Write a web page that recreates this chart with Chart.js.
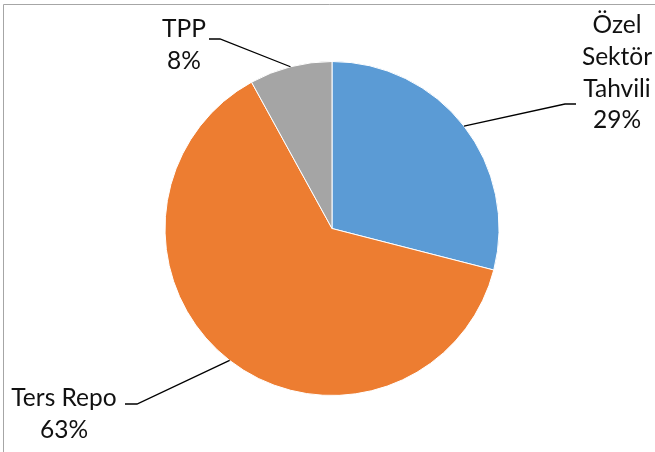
<!DOCTYPE html>
<html>
<head>
<meta charset="utf-8">
<script src="https://cdn.jsdelivr.net/npm/chart.js@4/dist/chart.umd.min.js"></script>
<style>
  html, body { margin: 0; padding: 0; background: #fff; }
  #wrap { width: 655px; height: 452px; position: relative; }
</style>
</head>
<body>
<div id="wrap"><canvas id="pieChart" width="655" height="452"></canvas></div>
<script>
// --- Data ---
const categories = ['Özel Sektör Tahvili', 'Ters Repo', 'TPP'];
const values = [29, 63, 8];
const sliceColors = ['#5B9BD5', '#ED7D31', '#A5A5A5'];

// label text lines per slice (the percentage line is added from the values)
const labelLines = [['Özel', 'Sektör', 'Tahvili'], ['Ters Repo'], ['TPP']];

// label placement: text centre x, first baseline y, elbow of the leader line
const labelPos = [
    { x: 617, y: 33, elbow: [[576, 104], [565, 104]] },
    { x: 64, y: 406, elbow: [[125, 404], [137, 404]] },
    { x: 184, y: 37, elbow: [[209, 39], [220, 39]] }
];

const LINE_H = 31.8;
const FONT = '24.5px Lato, "Noto Sans", sans-serif';

const frameAndLabels = {
    id: 'frameAndLabels',
    afterDraw(chart) {
        const ctx = chart.ctx;
        ctx.save();

        // outer frame (only top and left edges show in the reference)
        ctx.strokeStyle = '#a6a6a6';
        ctx.lineWidth = 1;
        ctx.beginPath();
        ctx.moveTo(3.5, 460);
        ctx.lineTo(3.5, 4.5);
        ctx.lineTo(660, 4.5);
        ctx.stroke();

        const total = values.reduce((a, b) => a + b, 0);
        const arcs = chart.getDatasetMeta(0).data;

        arcs.forEach((arc, i) => {
            const p = arc.getProps(['x', 'y', 'startAngle', 'endAngle', 'outerRadius'], true);
            const mid = (p.startAngle + p.endAngle) / 2;
            const ax = p.x + Math.cos(mid) * p.outerRadius;
            const ay = p.y + Math.sin(mid) * p.outerRadius;
            const pos = labelPos[i];

            // leader line
            ctx.strokeStyle = '#000';
            ctx.lineWidth = 1.3;
            ctx.beginPath();
            ctx.moveTo(pos.elbow[0][0], pos.elbow[0][1]);
            ctx.lineTo(pos.elbow[1][0], pos.elbow[1][1]);
            ctx.lineTo(ax, ay);
            ctx.stroke();

            // text
            const lines = labelLines[i].concat([Math.round(values[i] / total * 100) + '%']);
            ctx.fillStyle = '#111';
            ctx.font = FONT;
            ctx.textAlign = 'center';
            ctx.textBaseline = 'alphabetic';
            lines.forEach((t, k) => {
                ctx.fillText(t, pos.x, pos.y + k * LINE_H);
            });
        });

        ctx.restore();
    }
};

const pieChart = new Chart(document.getElementById('pieChart'), {
    type: 'pie',
    data: {
        labels: categories,
        datasets: [{
            data: values,
            backgroundColor: sliceColors,
            borderColor: '#ffffff',
            borderWidth: 1
        }]
    },
    options: {
        responsive: false,
        animation: false,
        radius: 167,
        layout: { padding: { left: 40, right: 31, top: 30, bottom: 25 } },
        plugins: {
            legend: { display: false },
            tooltip: { enabled: false }
        }
    },
    plugins: [frameAndLabels]
});
</script>
</body>
</html>
